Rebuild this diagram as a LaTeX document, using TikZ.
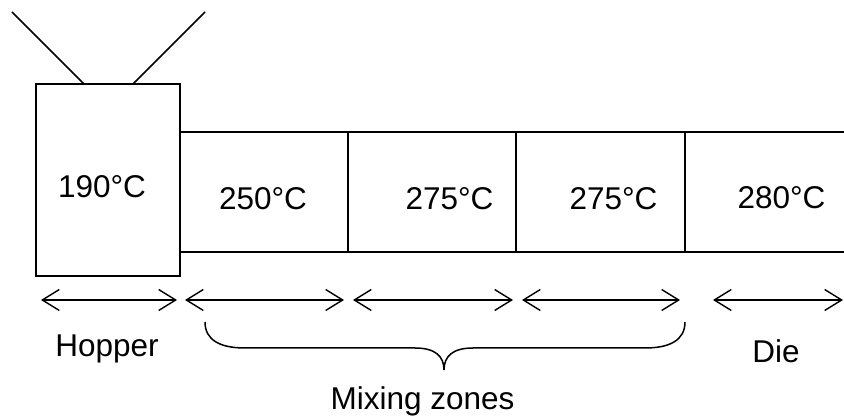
\documentclass[tikz,border=0pt]{standalone}
\usepackage{fontspec}
\setmainfont{Liberation Sans}
\usetikzlibrary{arrows.meta}
\begin{document}
\begin{tikzpicture}[x=1pt,y=-1pt,
  wall/.style={line width=1.8pt,line cap=rect},
  span/.style={line width=1.4pt,{Straight Barb[length=17pt,width=21pt,line width=1.4pt]}-{Straight Barb[length=17pt,width=21pt,line width=1.4pt]}},
  lbl/.style={anchor=base,inner sep=0pt,font=\fontsize{31.5}{36}\selectfont}]
\useasboundingbox (0,0) rectangle (844,419);

% hopper box and funnel
\node[wall,draw,rectangle,minimum width=144pt,minimum height=192pt,inner sep=0pt] (hop) at (108,180) {};
\coordinate (fl) at (84,84);
\coordinate (fr) at (133,84);
\coordinate (fla) at (12,12);
\coordinate (fra) at (205,12);
\draw[line width=1.6pt] (fla) -- (fl);
\draw[line width=1.6pt] (fra) -- (fr);

% barrel with heating zones
\coordinate (bt0) at (180,132);
\coordinate (bb0) at (180,252);
\coordinate (bt1) at (348,132);
\coordinate (bb1) at (348,252);
\coordinate (bt2) at (516,132);
\coordinate (bb2) at (516,252);
\coordinate (bt3) at (685,132);
\coordinate (bb3) at (685,252);
\coordinate (btE) at (845,132);
\coordinate (bbE) at (845,252);
\draw[wall] (bt0) -- (btE);
\draw[wall] (bb0) -- (bbE);
\draw[wall] (bt1) -- (bb1);
\draw[wall] (bt2) -- (bb2);
\draw[wall] (bt3) -- (bb3);

% zone temperatures
\node[lbl] (t0) at (102,198) {190°C};
\node[lbl] (t1) at (263,210) {250°C};
\node[lbl] (t2) at (449.5,210) {275°C};
\node[lbl] (t3) at (613.5,210) {275°C};
\node[lbl] (t4) at (781.5,209) {280°C};

% length markers
\coordinate (a0) at (41,300);
\coordinate (a1) at (177,300);
\coordinate (b0) at (185,300);
\coordinate (b1) at (344,300);
\coordinate (c0) at (353,300);
\coordinate (c1) at (513,300);
\coordinate (d0) at (522,300);
\coordinate (d1) at (680,300);
\coordinate (e0) at (713,300);
\coordinate (e1) at (843,300);
\draw[span] (a0) -- (a1);
\draw[span] (b0) -- (b1);
\draw[span] (c0) -- (c1);
\draw[span] (d0) -- (d1);
\draw[span] (e0) -- (e1);

% brace over the mixing zones
\coordinate (brL) at (205,322);
\coordinate (brT) at (444,370);
\coordinate (brR) at (685,322);
\draw[line width=1.5pt] (brL) .. controls (205,340) and (220,348) .. (245,348)
  -- (415,348) .. controls (435,348) and (444,356) .. (brT)
  .. controls (444,356) and (453,348) .. (473,348)
  -- (645,348) .. controls (670,348) and (685,340) .. (brR);

% captions
\node[lbl] (hopper) at (107,357) {Hopper};
\node[lbl] (die) at (776,363) {Die};
\node[lbl] (mix) at (422.5,410) {Mixing zones};
\end{tikzpicture}
\end{document}
